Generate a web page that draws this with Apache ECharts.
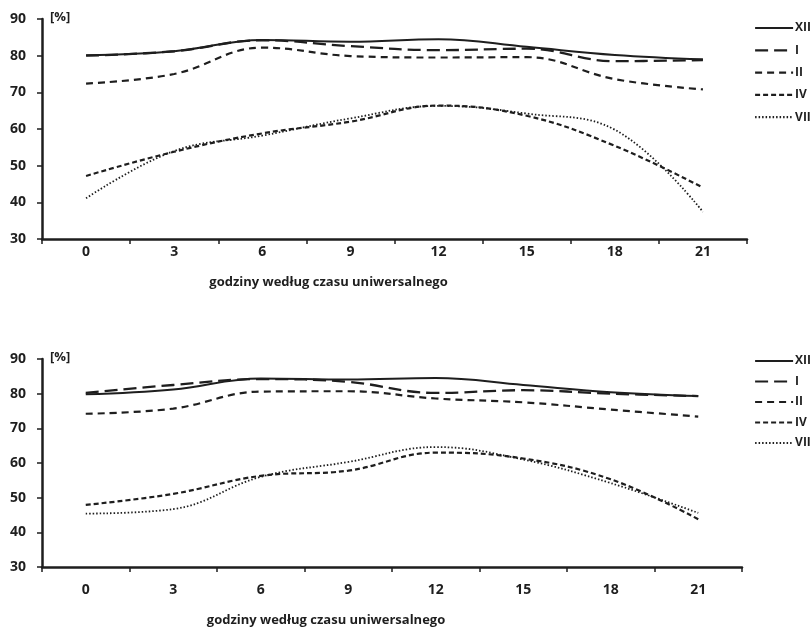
<!DOCTYPE html>
<html><head><meta charset="utf-8">
<script src="https://cdn.jsdelivr.net/npm/echarts@6/dist/echarts.min.js"></script>
<style>html,body{margin:0;padding:0;background:#fff}#c{width:811px;height:628px}</style>
</head><body><div id="c"></div>
<script>
const hours = ['0','3','6','9','12','15','18','21'];
const seriesNames = ['XII','I','II','IV','VII'];
const yTicks = [30,40,50,60,70,80,90];
const axisTitle = 'godziny według czasu uniwersalnego';
const unitLabel = '[%]';

// top panel
const topXII = [80.1, 81.2, 84.3, 83.8, 84.5, 82.4, 80.2, 79.0];
const topI   = [80.0, 81.2, 84.2, 82.6, 81.5, 81.9, 78.5, 78.8];
const topII  = [72.4, 75.0, 82.2, 79.9, 79.5, 79.6, 73.6, 70.8];
const topIV  = [47.2, 53.8, 58.8, 62.0, 66.4, 63.6, 55.4, 44.0];
const topVII = [41.1, 54.0, 58.2, 62.9, 66.3, 64.2, 59.8, 37.4];

// bottom panel
const botXII = [79.8, 81.2, 84.4, 84.1, 84.5, 82.5, 80.4, 79.3];
const botI   = [80.2, 82.5, 84.2, 83.4, 80.2, 81.0, 80.0, 79.3];
const botII  = [74.2, 75.7, 80.6, 80.7, 78.6, 77.5, 75.4, 73.4];
const botIV  = [47.9, 51.1, 56.3, 57.8, 63.0, 61.3, 55.3, 43.8];
const botVII = [45.4, 46.7, 56.0, 60.3, 64.6, 61.0, 54.2, 45.6];

const dashes = {XII:'solid', I:[13,6], II:[7,5], IV:[5,3], VII:[1.5,2]};
const widths = {XII:2, I:2.3, II:2.2, IV:2.2, VII:1.8};
const FONT = '"Open Sans", "Liberation Sans", sans-serif';
const INK = '#1e1e1e';

const grids = [
  {left:42, right:64, top:19, height:220},
  {left:42, right:69, top:359, height:220}
];
const labelMargins = [6, 16];
const nameGaps = [37, 47];

const xAxes = grids.map((g,i)=>({
  type:'category', gridIndex:i, data:hours, boundaryGap:true,
  axisLine:{lineStyle:{color:INK, width:2.5}},
  axisTick:{show:true, interval:0, length:5, lineStyle:{color:INK, width:1.5}},
  axisLabel:{color:INK, fontFamily:FONT, fontWeight:'bold', fontSize:14, margin:labelMargins[i]},
  name:axisTitle, nameLocation:'middle', nameGap:nameGaps[i],
  nameTextStyle:{color:INK, fontFamily:FONT, fontWeight:'bold', fontSize:13, padding:[0,132,0,0]}
}));
const yAxes = grids.map((g,i)=>({
  type:'value', gridIndex:i, min:yTicks[0], max:yTicks[yTicks.length-1], interval:10,
  splitLine:{show:false},
  axisLine:{show:true, lineStyle:{color:INK, width:2.5}},
  axisTick:{show:true, length:5, lineStyle:{color:INK, width:1.5}},
  axisLabel:{color:INK, fontFamily:FONT, fontWeight:'bold', fontSize:14, margin:16}
}));

const topData = [topXII, topI, topII, topIV, topVII];
const botData = [botXII, botI, botII, botIV, botVII];
const series = [];
[topData, botData].forEach((set, gi)=>{
  set.forEach((vals, k)=>{
    const nm = seriesNames[k];
    series.push({
      name:nm, type:'line', xAxisIndex:gi, yAxisIndex:gi, data:vals,
      smooth:0.4, symbol:'none', showSymbol:false,
      lineStyle:{color:INK, width:widths[nm], type:dashes[nm]},
      itemStyle:{color:INK},
      z: 10 - k
    });
  });
});

const legendBase = {
  orient:'vertical', left:749, itemWidth:38, itemHeight:14,
  itemStyle:{opacity:0, color:'rgba(0,0,0,0)', borderWidth:0},
  lineStyle:{width:2.2, type:'inherit', color:INK},
  textStyle:{color:INK, fontFamily:FONT, fontWeight:'bold', fontSize:12, padding:[0,0,0,-3]},
  data:seriesNames, selectedMode:false
};
const option = {
  animation:false,
  backgroundColor:'#fff',
  grid:grids,
  xAxis:xAxes,
  yAxis:yAxes,
  legend:[
    Object.assign({}, legendBase, {top:17, itemGap:10.3}),
    Object.assign({}, legendBase, {top:350, itemGap:8.5})
  ],
  graphic:[
    {type:'text', left:50, top:11, style:{text:unitLabel, fill:INK, font:'bold 13px ' + FONT}},
    {type:'text', left:50, top:351, style:{text:unitLabel, fill:INK, font:'bold 13px ' + FONT}}
  ],
  series:series
};
const chart = echarts.init(document.getElementById('c'), null, {renderer:'canvas'});
chart.setOption(option);
</script>
</body></html>
